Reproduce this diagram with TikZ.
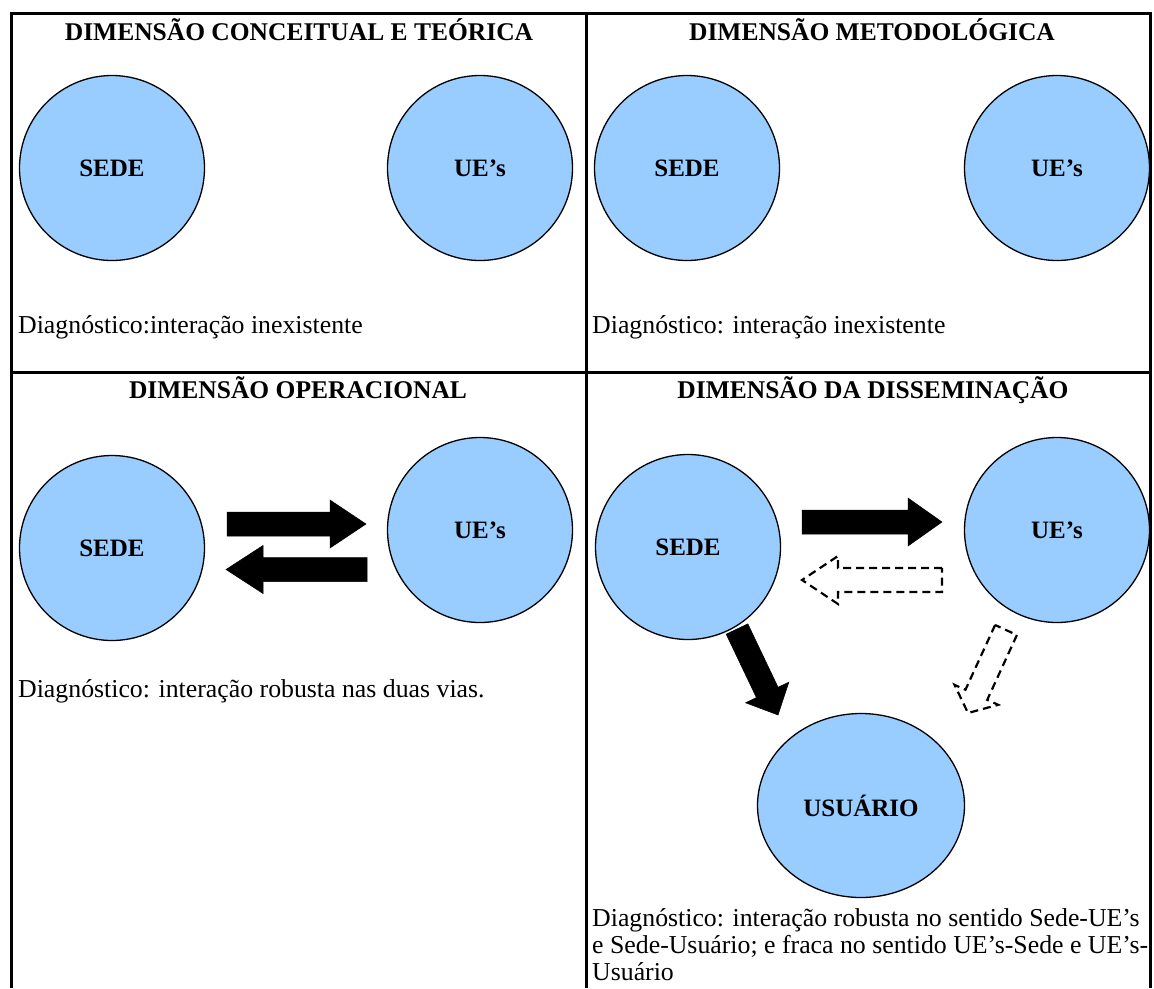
\documentclass[tikz,border=0pt]{standalone}
\usepackage{fontspec}
\setmainfont{Liberation Serif}
\usetikzlibrary{calc}
\usetikzlibrary{shapes.geometric}
\definecolor{unitblue}{RGB}{153,204,255}
\tikzset{
  arrow frame/.style 2 args={shift={(#1)},rotate=#2},
  unit/.style={circle, draw=black, line width=1.3pt, fill=unitblue,
    minimum size=185pt, inner sep=0pt, font=\fontsize{25}{30}\selectfont\bfseries},
  title/.style={anchor=base, inner sep=0pt, font=\fontsize{25.5}{30}\selectfont\bfseries},
  diag/.style={anchor=base west, inner sep=0pt, font=\fontsize{25.8}{27}\selectfont},
  strong/.style={fill=black, draw=black, line width=0.5pt},
  weak/.style={draw=black, line width=2.2pt, dash pattern=on 8pt off 5pt},
  grid line/.style={line width=3pt},
}
% fat arrow: [style]{tail}{tip}{head length}
\newcommand\fatarrow[4][]{%
  \draw[#1] let \p1=($(#3)-(#2)$), \n1={atan2(\y1,\x1)}, \n2={veclen(\x1,\y1)} in
    ([arrow frame={#2}{\n1}]0pt,-12pt) -- ([arrow frame={#2}{\n1}]\n2-#4pt,-12pt)
    -- ([arrow frame={#2}{\n1}]\n2-#4pt,-24pt) -- ([arrow frame={#2}{\n1}]\n2,0pt)
    -- ([arrow frame={#2}{\n1}]\n2-#4pt,24pt) -- ([arrow frame={#2}{\n1}]\n2-#4pt,12pt)
    -- ([arrow frame={#2}{\n1}]0pt,12pt) -- cycle;}

\begin{document}
\begin{tikzpicture}[x=1pt,y=-1pt]
  \useasboundingbox (0,0) rectangle (1154,988);

  % table lines
  \draw[grid line] (10,13) -- (1152,13);
  \draw[grid line] (11.5,13) -- (11.5,988);
  \draw[grid line] (586,13) -- (586,988);
  \draw[grid line] (1150.5,13) -- (1150.5,988);
  \draw[grid line] (11.5,372.5) -- (1150.5,372.5);

  % titles
  \node[title] (hA) at (299,40.5) {DIMENSÃO CONCEITUAL E TEÓRICA};
  \node[title] (hB) at (872,40.5) {DIMENSÃO METODOLÓGICA};
  \node[title] (hC) at (298,398.5) {DIMENSÃO OPERACIONAL};
  \node[title] (hD) at (873,398.5) {DIMENSÃO DA DISSEMINAÇÃO};

  % conceitual
  \node[unit] (sedeA) at (112,168) {SEDE};
  \node[unit] (uesA) at (480,168) {UE’s};
  % metodologica
  \node[unit] (sedeB) at (687,168) {SEDE};
  \node[unit] (uesB) at (1057,168) {UE’s};
  % operacional
  \node[unit] (sedeC) at (112,548) {SEDE};
  \node[unit] (uesC) at (480,530) {UE’s};
  % disseminacao
  \node[unit] (sedeD) at (688,547) {SEDE};
  \node[unit] (uesD) at (1057,530) {UE’s};
  \node[unit, ellipse, minimum width=207pt, minimum height=184pt] (usuario) at (861,805.5) {USUÁRIO};

  % arrows operacional
  \coordinate (opA) at (227,524);
  \coordinate (opB) at (366,524);
  \coordinate (opC) at (367,569.5);
  \coordinate (opD) at (226,569.5);
  \fatarrow[strong]{opA}{opB}{36}
  \fatarrow[strong]{opC}{opD}{37}

  % arrows disseminacao
  \coordinate (dsA) at (802,522);
  \coordinate (dsB) at (942,522);
  \coordinate (dsC) at (942,580);
  \coordinate (dsD) at (802,580);
  \coordinate (dsE) at (737,629);
  \coordinate (dsF) at (778,715);
  \coordinate (dsG) at (1006,630);
  \coordinate (dsH) at (968,713);
  \fatarrow[strong]{dsA}{dsB}{34}
  \fatarrow[weak]{dsC}{dsD}{36}
  \fatarrow[strong]{dsE}{dsF}{25}
  \fatarrow[weak]{dsG}{dsH}{20}

  % diagnosticos
  \node[diag] (dgA) at (18,333) {Diagnóstico:interação inexistente};
  \node[diag] (dgB) at (592,333) {Diagnóstico: interação inexistente};
  \node[diag] (dgC) at (18,697) {Diagnóstico: interação robusta nas duas vias.};
  \node[diag, anchor=north west, align=left] (dgD) at (592,908)
    {Diagnóstico: interação robusta no sentido Sede-UE’s\\
     e Sede-Usuário; e fraca no sentido UE’s-Sede e UE’s-\\
     Usuário};
\end{tikzpicture}
\end{document}
